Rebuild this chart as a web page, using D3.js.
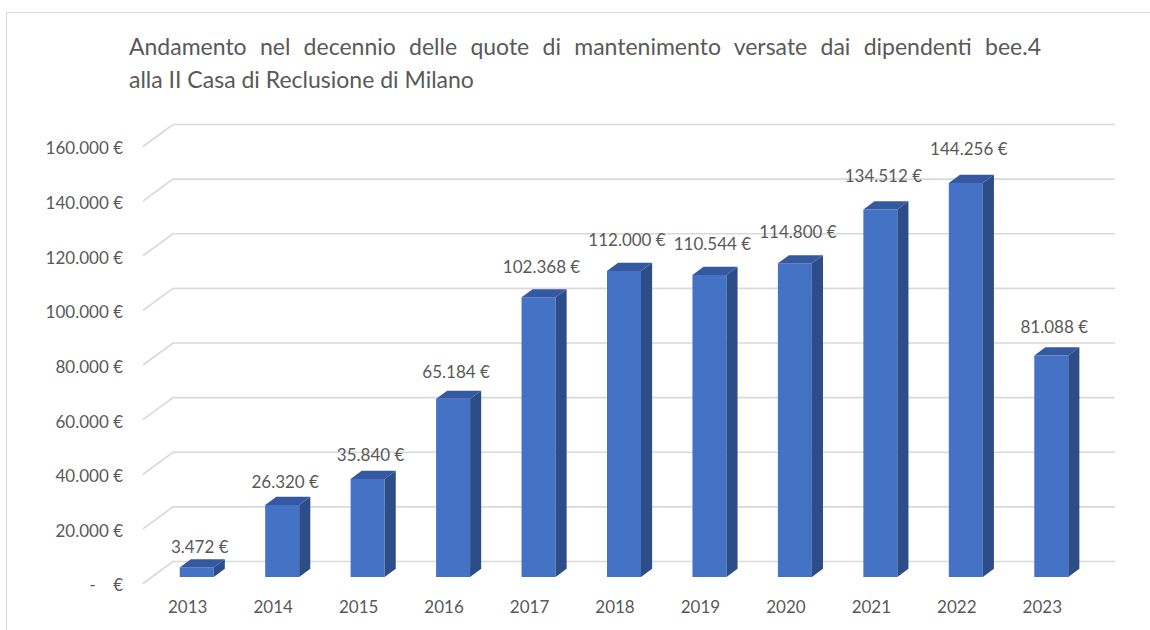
<!DOCTYPE html>
<html>
<head>
<meta charset="utf-8">
<script src="https://cdn.jsdelivr.net/npm/d3@7"></script>
<style>
  html, body { margin: 0; padding: 0; background: #ffffff; }
  svg text { font-family: Lato, "Open Sans", sans-serif; fill: #595959; }
</style>
</head>
<body>
<svg id="chart" width="1150" height="630"></svg>
<script>
// Quote di mantenimento per anno (euro)
const years = ["2013", "2014", "2015", "2016", "2017", "2018", "2019", "2020", "2021", "2022", "2023"];
const quote = [3472, 26320, 35840, 65184, 102368, 112000, 110544, 114800, 134512, 144256, 81088];
const yTicks = [0, 20000, 40000, 60000, 80000, 100000, 120000, 140000, 160000];
const titleLines = [
  "Andamento nel decennio delle quote di mantenimento versate dai dipendenti bee.4",
  "alla II Casa di Reclusione di Milano"
];

const svg = d3.select("#chart");
const W = 1150, H = 630;

// Italian number format: "." as thousands separator
const it = d3.formatLocale({ decimal: ",", thousands: ".", grouping: [3], currency: ["", " €"] });
const fmt = it.format(",d");
const euro = v => fmt(v) + " €";

// chart frame
svg.append("rect")
  .attr("x", 6.5).attr("y", 12.5)
  .attr("width", W).attr("height", H)
  .attr("fill", "#ffffff")
  .attr("stroke", "#d9d9d9").attr("stroke-width", 1);

// title; the first line is spread with wider word spacing
const titleLeft = 129, titleFirstRight = 1041;
const title = svg.append("text").attr("font-size", 23);
titleLines.forEach((t, i) => {
  const ts = title.append("tspan").attr("x", titleLeft).attr("y", 55 + i * 33).text(t);
  if (i === 0) {
    const natural = ts.node().getComputedTextLength();
    const gaps = t.split(" ").length - 1;
    const extra = (titleFirstRight - titleLeft - natural) / gaps;
    if (extra > 0) ts.attr("word-spacing", extra);
  }
});

// 3D projection: front plane scales plus a depth offset vector
const depth = { dx: 30, dy: -22 };
const x = d3.scaleBand().domain(years).range([145, 1085]).paddingInner(0).paddingOuter(0);
const y = d3.scaleLinear().domain([0, 160000]).range([583.5, 146.5]);
const pt = (px, v, d) => [px + d * depth.dx, y(v) + d * depth.dy];

// back-wall gridlines with the left-wall diagonal
const wallRight = x.range()[1] + depth.dx;
const grid = svg.append("g").attr("fill", "none").attr("stroke", "#d9d9d9").attr("stroke-width", 1.6);
grid.selectAll("path").data(yTicks).join("path")
  .attr("d", v => {
    const a = pt(143, v, 0), b = pt(143, v, 1);
    return `M${a[0]},${a[1]}L${b[0]},${b[1]}L${wallRight},${b[1]}`;
  });

// y axis labels (front plane)
const yAxis = d3.axisLeft(y).tickValues(yTicks).tickSize(0).tickPadding(0)
  .tickFormat(v => v === 0 ? "-    €" : euro(v));
svg.append("g").attr("transform", "translate(123,2)").call(yAxis)
  .call(g => g.select(".domain").remove())
  .call(g => g.selectAll("text").attr("font-size", 17).attr("fill", "#595959")
    .style("white-space", "pre").attr("font-family", "Lato, sans-serif"));

// x axis labels
const xAxis = d3.axisBottom(x).tickSize(0).tickPadding(6);
svg.append("g").attr("transform", "translate(0,595)").call(xAxis)
  .call(g => g.select(".domain").remove())
  .call(g => g.selectAll("text").attr("font-size", 17).attr("fill", "#595959")
    .attr("font-family", "Lato, sans-serif"));

// bars: boxes between depth d0 and d1 of the floor
const d0 = 0.3, d1 = 0.67, barW = 34;
const bars = svg.append("g");
const data = years.map((yr, i) => ({ yr, v: quote[i] }));
const poly = ps => "M" + ps.map(p => p.join(",")).join("L") + "Z";

const g = bars.selectAll("g").data(data).join("g");
g.each(function (d) {
  const c = x(d.yr) + x.bandwidth() / 2;
  const xl = c - barW / 2, xr = c + barW / 2;
  const sel = d3.select(this);
  // front face
  sel.append("path").attr("fill", "#4472c4")
    .attr("d", poly([pt(xl, 0, d0), pt(xr, 0, d0), pt(xr, d.v, d0), pt(xl, d.v, d0)]));
  // right side
  sel.append("path").attr("fill", "#2c4d87")
    .attr("d", poly([pt(xr, 0, d0), pt(xr, 0, d1), pt(xr, d.v, d1), pt(xr, d.v, d0)]));
  // top
  sel.append("path").attr("fill", "#3459a0")
    .attr("d", poly([pt(xl, d.v, d0), pt(xr, d.v, d0), pt(xr, d.v, d1), pt(xl, d.v, d1)]));
});

// value labels
const yLabel = d3.scaleLinear().domain([0, 160000]).range([562.8, 562.8 - 160000 * 0.00283]);
svg.append("g").selectAll("text").data(data).join("text")
  .attr("x", d => x(d.yr) + x.bandwidth() / 2 + 12)
  .attr("y", d => yLabel(d.v))
  .attr("text-anchor", "middle")
  .attr("font-size", 17)
  .text(d => euro(d.v));
</script>
</body>
</html>
